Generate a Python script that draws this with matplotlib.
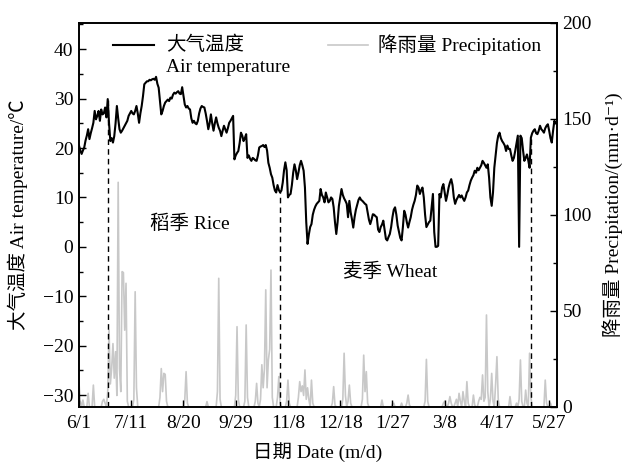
import numpy as np
import matplotlib
matplotlib.use("Agg")
import matplotlib.pyplot as plt

plt.rcParams['font.family'] = ['Liberation Serif', 'Noto Sans CJK SC', 'DejaVu Serif']
plt.rcParams['axes.unicode_minus'] = True

# Daily mean air temperature (deg C), starting on 6/1
air_temp = [
    20.5, 19.5, 18.8, 19.5, 20.1, 21.5, 22.5, 23.8, 21.8, 23.0,
    24.0, 25.1, 27.5, 25.8, 26.5, 27.5, 25.5, 27.8, 26.8, 27.0,
    28.2, 26.2, 29.9, 25.0, 21.4, 22.0, 21.1, 22.4, 25.0, 28.5,
    26.0, 23.8, 23.1, 23.5, 24.0, 24.5, 25.0, 25.5, 26.5, 27.0,
    27.5, 27.0, 26.8, 27.5, 28.5, 27.0, 25.1, 27.0, 28.5, 30.5,
    32.9, 33.2, 33.5, 33.5, 33.8, 33.7, 33.9, 34.0, 33.8, 34.4,
    33.0, 32.2, 29.5, 26.8, 27.5, 28.5, 29.2, 29.5, 29.8, 29.5,
    30.2, 30.0, 30.8, 31.2, 31.0, 31.3, 31.5, 31.0, 30.9, 32.3,
    30.5, 28.8, 28.2, 28.5, 28.0, 27.8, 26.0, 25.1, 25.5, 25.0,
    24.8, 25.5, 27.0, 28.0, 28.5, 28.3, 28.2, 27.0, 25.5, 23.8,
    25.0, 26.8, 25.0, 23.5, 25.0, 26.2, 25.0, 24.1, 23.5, 22.4,
    23.5, 24.5, 23.8, 23.1, 24.0, 25.1, 25.5, 26.0, 26.5, 17.7,
    18.5, 19.0, 19.4, 21.0, 23.1, 22.5, 21.4, 22.0, 22.8, 18.0,
    18.5, 17.8, 17.4, 18.0, 17.8, 17.5, 17.4, 18.5, 20.1, 20.3,
    20.4, 20.6, 20.2, 20.6, 19.5, 17.0, 16.0, 14.7, 14.0, 12.5,
    11.4, 11.0, 12.5, 11.5, 11.0, 11.4, 13.0, 15.5, 17.1, 15.5,
    10.0, 10.5, 10.7, 12.5, 15.0, 16.7, 15.5, 13.7, 15.0, 16.5,
    17.4, 16.5, 15.4, 12.0, 5.0, 0.6, 2.5, 4.0, 4.6, 6.5,
    7.5, 8.2, 8.7, 9.0, 9.3, 11.7, 10.5, 10.0, 9.0, 11.0,
    10.0, 9.0, 9.3, 10.0, 9.7, 8.0, 5.0, 2.6, 5.0, 8.3,
    10.0, 11.7, 10.5, 9.8, 9.3, 8.7, 6.0, 9.3, 7.0, 5.6,
    3.9, 6.0, 7.5, 8.5, 9.5, 10.0, 9.5, 9.3, 9.0, 8.7,
    8.5, 7.0, 5.5, 4.6, 5.5, 6.6, 6.5, 6.2, 6.0, 3.5,
    3.0, 4.0, 4.5, 5.3, 3.5, 1.6, 1.3, 2.0, 2.6, 4.0,
    6.0, 7.5, 8.0, 6.5, 4.3, 3.0, 1.8, 1.3, 4.0, 7.3,
    6.5, 5.0, 3.9, 5.0, 6.0, 7.5, 8.5, 9.3, 10.5, 12.4,
    12.0, 10.7, 11.5, 12.0, 10.0, 6.5, 4.0, 4.5, 5.0, 5.3,
    8.0, 10.7, 3.0, 0.0, 0.0, 0.2, 10.7, 10.0, 12.0, 12.7,
    11.0, 9.3, 10.5, 12.0, 13.0, 13.7, 12.5, 10.0, 8.7, 9.5,
    10.0, 10.5, 10.0, 10.4, 9.8, 9.3, 10.0, 11.0, 11.4, 12.5,
    13.4, 14.0, 14.5, 15.4, 15.0, 16.0, 15.5, 16.0, 16.5, 17.4,
    17.0, 16.5, 16.0, 16.7, 14.0, 10.0, 8.3, 11.0, 16.0, 18.5,
    21.0, 22.5, 23.1, 22.0, 21.4, 21.0, 20.5, 19.4, 20.5, 19.8,
    19.8, 18.5, 17.4, 18.0, 19.4, 21.0, 22.5, 0.0, 22.5, 22.0,
    19.5, 17.4, 18.0, 18.7, 17.5, 16.0, 22.1, 23.0, 23.5, 23.8,
    23.0, 22.8, 23.5, 24.5, 23.8, 23.5, 23.1, 24.0, 24.5, 24.8,
    23.5, 22.0, 21.1, 23.5, 25.5, 25.0,
]

# Rain events: day index (from 6/1) and daily precipitation (mm/d)
rain_days = [
    0, 1, 3, 7, 11, 18, 19, 20, 22, 23, 24, 25, 26, 27, 28, 29, 30, 31, 32, 33,
    34, 35, 36, 37, 42, 43, 44, 62, 63, 64, 65, 66, 67, 81, 82, 83, 98, 106, 107, 108,
    120, 121, 122, 127, 128, 129, 135, 136, 137, 139, 140, 141, 142, 143, 144, 145, 146, 147, 148, 152,
    153, 154, 159, 160, 161, 168, 169, 170, 171, 172, 173, 174, 175, 176, 178, 179, 194, 195, 196, 202,
    203, 204, 206, 207, 208, 217, 218, 219, 220, 221, 232, 240, 241, 247, 251, 252, 253, 265, 266, 267,
    279, 280, 283, 284, 285, 288, 289, 291, 292, 294, 295, 297, 298, 302, 303, 306, 307, 308, 309, 310,
    311, 312, 313, 315, 316, 317, 319, 320, 321, 330, 335, 337, 338, 339, 342, 343, 345, 346, 357, 358,
    361,
]
rain_mm = [
    12.3, 3, 3.6, 7.1, 11.4, 3, 4, 2, 8, 40, 12, 20, 33, 15, 28.8, 6, 117, 20, 8, 70.5,
    70, 40, 64.4, 3, 4, 60, 10, 5, 20, 8, 17.5, 17, 3, 4, 18.4, 2, 2.8, 8, 67, 4,
    6, 41.8, 4, 3, 42.7, 5, 3, 12.3, 2, 4, 22, 10, 20, 61, 10, 24.5, 30, 71.3, 5, 5,
    15.8, 2, 3, 14, 2, 5, 13.2, 8, 11, 6, 19.3, 4, 10, 4, 14, 2, 2, 10.6, 1, 4,
    28, 6, 3, 11.4, 2, 4, 27, 8, 18.4, 2, 3.6, 1.5, 2, 2, 2, 6.2, 1, 3, 24.8, 3,
    2, 3, 2, 5.4, 2, 2, 4, 7.1, 3, 8, 3, 13.2, 2, 6.2, 1, 3, 5, 4, 16.7, 3,
    5, 47.9, 8, 4, 17.5, 3, 12, 26.2, 4, 5.4, 2, 4, 24.5, 3, 8.8, 2, 28, 5, 14, 2,
    2,
]

# Crop season boundaries (day index): rice sowing, rice harvest / wheat sowing, wheat harvest
season_bounds = [22, 154, 346]

tick_days = [0, 40, 80, 120, 160, 200, 240, 280, 320, 360]
tick_labels = ['6/1', '7/11', '8/20', '9/29', '11/8', '12/18', '1/27', '3/8', '4/17', '5/27']

days = np.arange(len(air_temp))
temp = np.array(air_temp)
precip = np.zeros(len(air_temp))
precip[rain_days] = rain_mm

fig = plt.figure(figsize=(6.25, 4.63), dpi=100)
ax = fig.add_axes([0.1264, 0.1210, 0.7648, 0.8294])
ax2 = ax.twinx()

ax2.plot(days, precip, color='#c8c8c8', lw=1.2, zorder=1)
ax.plot(days, temp, color='black', lw=1.5, zorder=3)
ax.set_zorder(ax2.get_zorder() + 1)
ax.patch.set_visible(False)

ymin = -32.4
for d in season_bounds:
    ax.plot([d, d], [ymin, temp[d]], color='black', lw=1.0, ls=(0, (4, 3)), zorder=2)

ax.set_xlim(0, 366)
ax.set_ylim(ymin, 45.3)
ax2.set_ylim(0, 200)

ax.set_xticks(tick_days)
ax.set_xticklabels(tick_labels)
ax.set_yticks(np.arange(-30, 41, 10))
ax.set_yticks(np.arange(-30, 46, 5), minor=True)
ax2.set_yticks(np.arange(0, 201, 50))
ax2.set_yticks(np.arange(0, 201, 25), minor=True)

fs = 14
ax.tick_params(axis='x', which='both', direction='in', length=5, width=1.0,
               labelsize=fs, pad=6, top=False)
ax.tick_params(axis='y', which='major', direction='in', length=5, width=1.0,
               labelsize=fs, pad=4, right=False)
ax.tick_params(axis='y', which='minor', direction='in', length=3, width=1.0, right=False)
ax2.tick_params(axis='y', which='major', direction='in', length=5, width=1.0,
                labelsize=fs, pad=4)
ax2.tick_params(axis='y', which='minor', direction='in', length=3, width=1.0)
ax2.tick_params(axis='x', which='both', bottom=False, top=False)

for a in (ax, ax2):
    for s in a.spines.values():
        s.set_linewidth(1.2)

ax.set_xlabel('日期 Date (m/d)', fontsize=fs)
ax.set_ylabel('大气温度 Air temperature/℃', fontsize=fs)
ax2.set_ylabel('降雨量 Precipitation/(mm·d⁻¹)', fontsize=fs)
ax.xaxis.set_label_coords(0.5, -0.092)
ax.yaxis.set_label_coords(-0.107, 0.5)
ax2.yaxis.set_label_coords(1.094, 0.5)

# Legend drawn in axes coordinates
ax.plot([0.071, 0.157], [0.943, 0.943], color='black', lw=1.5, transform=ax.transAxes)
ax.text(0.182, 0.943, '大气温度', fontsize=fs, ha='left', va='center', transform=ax.transAxes)
ax.text(0.182, 0.885, 'Air temperature', fontsize=fs, ha='left', va='center', transform=ax.transAxes)
ax.plot([0.521, 0.605], [0.943, 0.943], color='#c8c8c8', lw=1.2, transform=ax.transAxes)
ax.text(0.626, 0.943, '降雨量 Precipitation', fontsize=fs, ha='left', va='center', transform=ax.transAxes)

# Season annotations
ax.text(85, 4.6, '稻季 Rice', fontsize=fs, ha='center', va='center')
ax.text(238, -5.1, '麦季 Wheat', fontsize=fs, ha='center', va='center')

fig.savefig('out.png', dpi=100)
